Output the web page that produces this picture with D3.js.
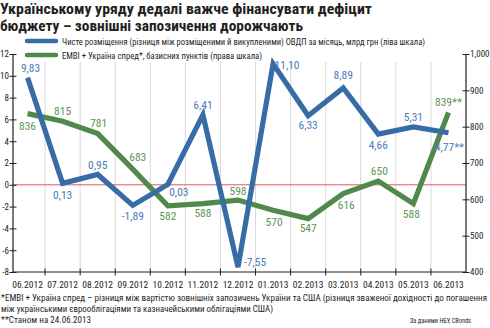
<!DOCTYPE html>
<html><head><meta charset="utf-8">
<script src="https://cdn.jsdelivr.net/npm/d3@7/dist/d3.min.js"></script>
<style>
html,body{margin:0;padding:0;background:#fff;}
svg{display:block;}
text{font-family:"Liberation Sans Narrow","Roboto Condensed","Open Sans",sans-serif;}
</style></head><body>
<svg id="c" width="490" height="328"></svg>
<script>
const months = ["06.2012","07.2012","08.2012","09.2012","10.2012","11.2012","12.2012","01.2013","02.2013","03.2013","04.2013","05.2013","06.2013"];
const ovdp = [9.83,0.13,0.95,-1.89,0.03,6.41,-7.55,11.10,6.33,8.89,4.66,5.31,4.77];
const ovdpLabels = ["9,83","0,13","0,95","-1,89","0,03","6,41","-7,55","11,10","6,33","8,89","4,66","5,31","4,77**"];
const embi = [836,815,781,683,582,588,598,570,547,616,650,588,839];
const embiLabels = ["836","815","781","683","582","588","598","570","547","616","650","588","839**"];
const leftTicks = [-8,-6,-4,-2,0,2,4,6,8,10,12];
const rightTicks = [400,500,600,700,800,900,1000];
const titleLines = ["Українському уряду дедалі важче фінансувати дефіцит","бюджету – зовнішні запозичення дорожчають"];
const legendTexts = ["Чисте розміщення (різниця між розміщеними й викупленими) ОВДП за місяць, млрд грн (ліва шкала)","EMBI + Україна спред*, базисних пунктів  (права шкала)"];
const notes = ["*EMBI + Україна спред – різниця між вартістю зовнішніх запозичень України та США (різниця зваженої дохідності до погашення","між українськими єврооблігаціями та казначейськими облігаціями США)","**Станом на 24.06.2013"];
const source = "За даними НБУ, CBonds";

// label placement offsets (style, not data)
const ovdpOff = [[3,-6],[0,16],[0,-5],[0,15],[11,12],[0,-6],[17,-1],[14,5],[0,13],[0,-9],[0,15],[0,-6],[1,18]];
const embiOff = [[0,16],[0,-6],[1,-7],[5,-8],[0,14],[0,13],[0,-5],[1,16],[0,13],[3,15],[1,-6],[-2,14],[0,-6]];

const BLUE="#386ca6", GREEN="#4f8a4c", BLUE_T="#4b7cb8", GREEN_T="#5a9657", INK="#231f20";
const svg=d3.select("#c");
const pTop=54, pBottom=272, pLeft=13, pRight=466;
const x=d3.scaleBand().domain(months).range([10,466]);
const xc=d=>x(d)+x.bandwidth()/2;
const yL=d3.scaleLinear().domain([-8,12]).range([pBottom,pTop]);
const yR=d3.scaleLinear().domain([400,1000]).range([pBottom,pTop]);

// title
const tw=[372,303];
titleLines.forEach((t,i)=>svg.append("text").attr("x",0).attr("y",13.5+i*17).text(t)
  .attr("font-size",15).attr("font-weight","bold").attr("fill",INK)
  .attr("textLength",tw[i]).attr("lengthAdjust","spacingAndGlyphs"));

// gridlines
svg.append("g").selectAll("line").data(months.slice(1)).join("line")
  .attr("x1",d=>x(d)).attr("x2",d=>x(d)).attr("y1",62).attr("y2",pBottom)
  .attr("stroke","#d9d9d9").attr("stroke-width",1);

// zero line
svg.append("line").attr("x1",pLeft).attr("x2",pRight).attr("y1",yL(0)).attr("y2",yL(0))
  .attr("stroke","#e8545a").attr("stroke-width",1);

// axes
const axL=d3.axisLeft(yL).tickValues(leftTicks).tickSize(0).tickPadding(4).tickFormat(d=>d);
const gL=svg.append("g").attr("transform",`translate(${pLeft},0)`).call(axL);
gL.select(".domain").remove();
gL.selectAll("text").attr("font-size",9).attr("fill",INK);
gL.append("line").attr("x1",0).attr("x2",0).attr("y1",pTop).attr("y2",pBottom).attr("stroke",INK).attr("stroke-width",1.2);
gL.selectAll(".tick").append("line").attr("x1",-3.5).attr("x2",3.5).attr("stroke",INK);

const axR=d3.axisRight(yR).tickValues(rightTicks).tickSize(0).tickPadding(4);
const gR=svg.append("g").attr("transform",`translate(${pRight},0)`).call(axR);
gR.select(".domain").remove();
gR.selectAll("text").attr("font-size",9).attr("fill",INK);
gR.append("line").attr("x1",0).attr("x2",0).attr("y1",pTop).attr("y2",pBottom).attr("stroke",INK).attr("stroke-width",1.2);
gR.selectAll(".tick").append("line").attr("x1",-3.5).attr("x2",3.5).attr("stroke",INK);

const axB=d3.axisBottom(x).tickSize(0).tickPadding(9);
const gB=svg.append("g").attr("transform",`translate(0,${pBottom})`).call(axB);
gB.select(".domain").remove();
gB.selectAll("text").attr("font-size",9.5).attr("fill",INK);
gB.append("line").attr("x1",pLeft).attr("x2",pRight).attr("stroke",INK).attr("stroke-width",1.2);
gB.selectAll("line.bt").data(months.slice(1)).join("line").attr("class","bt")
  .attr("x1",d=>x(d)).attr("x2",d=>x(d)).attr("y1",-3.5).attr("y2",3.5).attr("stroke",INK);

// lines
const lineL=d3.line().x((d,i)=>xc(months[i])).y(d=>yL(d));
const lineR=d3.line().x((d,i)=>xc(months[i])).y(d=>yR(d));
svg.append("path").attr("d",lineR(embi)).attr("fill","none").attr("stroke",GREEN).attr("stroke-width",5.2).attr("stroke-linejoin","miter");
svg.append("path").attr("d",lineL(ovdp)).attr("fill","none").attr("stroke",BLUE).attr("stroke-width",5.2).attr("stroke-linejoin","miter");

// value labels
svg.append("g").selectAll("text").data(ovdp).join("text")
  .attr("x",(d,i)=>xc(months[i])+ovdpOff[i][0]).attr("y",(d,i)=>yL(d)+ovdpOff[i][1])
  .attr("text-anchor","middle").attr("font-size",11.5).attr("fill",BLUE_T).text((d,i)=>ovdpLabels[i]);
svg.append("g").selectAll("text").data(embi).join("text")
  .attr("x",(d,i)=>xc(months[i])+embiOff[i][0]).attr("y",(d,i)=>yR(d)+embiOff[i][1])
  .attr("text-anchor","middle").attr("font-size",11.5).attr("fill",GREEN_T).text((d,i)=>embiLabels[i]);

// legend
const lw=[363,200];
[BLUE,GREEN].forEach((c,i)=>{
  const yy=41+i*14;
  svg.append("line").attr("x1",27).attr("x2",56).attr("y1",yy).attr("y2",yy)
    .attr("stroke",c).attr("stroke-width",4.5).attr("stroke-linecap","round");
  svg.append("text").attr("x",62).attr("y",yy+3.5).attr("font-size",9.5).attr("fill",INK)
    .attr("textLength",lw[i]).attr("lengthAdjust","spacingAndGlyphs").text(legendTexts[i]);
});

// notes
const nw=[486,272,90];
notes.forEach((t,i)=>svg.append("text").attr("x",1).attr("y",301+i*11).attr("font-size",9).attr("fill",INK)
  .attr("textLength",nw[i]).attr("lengthAdjust","spacingAndGlyphs").text(t));
svg.append("text").attr("x",410).attr("y",323).attr("font-size",7.5).attr("fill",INK)
  .attr("textLength",61).attr("lengthAdjust","spacingAndGlyphs").text(source);
</script>
</body></html>
